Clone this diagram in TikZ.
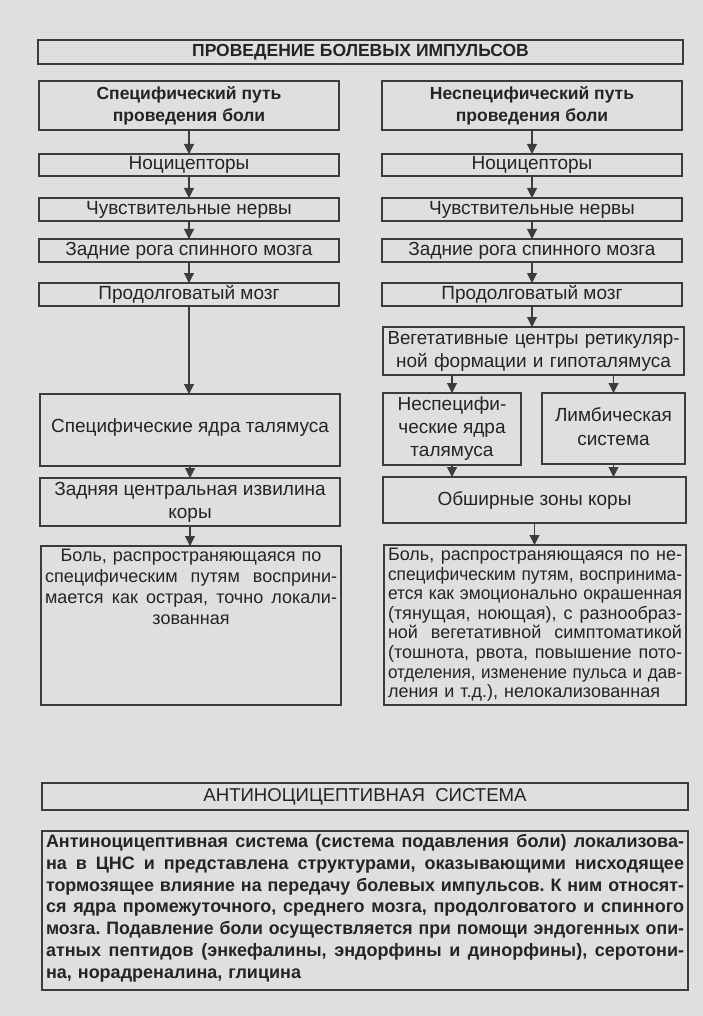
\documentclass[tikz,border=0pt]{standalone}
\usepackage{fontspec}
\setmainfont{Liberation Sans}
\usetikzlibrary{arrows.meta}
\definecolor{bg}{RGB}{223,223,223}
\definecolor{ln}{RGB}{60,60,60}
\definecolor{tx}{RGB}{36,36,36}
\frenchspacing
\newsavebox\jbox
\newcommand\jl[1]{\leavevmode\sbox\jbox{#1}\ifdim\wd\jbox>\linewidth\resizebox{\linewidth}{\height}{\usebox\jbox}\else\hbox to\linewidth{\spaceskip=\fontdimen2\font plus 1fil\relax#1}\fi}
\newcommand\cl[1]{\makebox[\linewidth][c]{#1}}
\begin{document}
\begin{tikzpicture}[x=1pt,y=-1pt,
  R/.style n args={4}{at={({(#1+#3)/2},{(#2+#4)/2})}, minimum width={(#3-#1)*1pt}, minimum height={(#4-#2)*1pt}},
  box/.style={draw=ln, line width=1.1pt, inner sep=0pt, outer sep=0pt, text=tx, align=center,
    font=\fontsize{19}{23}\selectfont},
  hd/.style={font=\bfseries\fontsize{17.5}{22}\selectfont},
  arr/.style={draw=ln, line width=1.1pt, -{Triangle[width=10pt,length=10pt]}},
  txt/.style={inner sep=0pt, text=tx, align=left, anchor=north, text width=#1}]
\fill[bg] (0,0) rectangle (703,1016);
\useasboundingbox (0,0) rectangle (703,1016);

% title
\node[box, R={38}{40}{683}{64}, font=\bfseries\fontsize{17.5}{20}\selectfont] (title) {ПРОВЕДЕНИЕ БОЛЕВЫХ ИМПУЛЬСОВ};

% left column
\node[box, hd, R={39}{81}{339}{130}] (l1) {Специфический путь\\проведения боли};
\node[box, R={39}{154}{339}{176}] (l2) {Ноцицепторы};
\node[box, R={39}{198}{339}{221}] (l3) {Чувствительные нервы};
\node[box, R={39}{239}{339}{262}] (l4) {Задние рога спинного мозга};
\node[box, R={39}{283}{339}{306}] (l5) {Продолговатый мозг};
\node[box, R={40}{394}{340}{466}] (l6) {\raisebox{8pt}{Специфические ядра талямуса}};
\node[box, R={40}{478}{340}{526}] (l7) {Задняя центральная извилина\\коры};
\node[box, R={41}{546}{341}{705}] (l8) {};
\node[txt=292pt, font=\fontsize{18}{21}\selectfont] (l8t) at ([yshift=-3pt]l8.north)
  {\cl{Боль, распространяющаяся по}\\
   \jl{специфическим путям восприни-}\\
   \jl{мается как острая, точно локали-}\\
   \cl{зованная}};

% right column
\node[box, hd, R={382}{81}{682}{130}] (r1) {Неспецифический путь\\проведения боли};
\node[box, R={382}{154}{682}{176}] (r2) {Ноцицепторы};
\node[box, R={382}{198}{682}{221}] (r3) {Чувствительные нервы};
\node[box, R={382}{239}{682}{262}] (r4) {Задние рога спинного мозга};
\node[box, R={382}{283}{682}{306}] (r5) {Продолговатый мозг};
\node[box, R={383}{327}{684}{375}] (r6) {};
\node[txt=292pt, font=\fontsize{19}{23}\selectfont, anchor=center] (r6t) at (r6.center)
  {\jl{Вегетативные центры ретикуляр-}\\
   \cl{ной формации и гипоталямуса}};
\node[box, R={383}{393}{521}{465}] (r7a) {Неспецифи-\\ческие ядра\\талямуса};
\node[box, R={542}{393}{685}{464}] (r7b) {\raisebox{4pt}{\begin{tabular}{@{}c@{}}Лимбическая\\[1pt]система\end{tabular}}};
\node[box, R={383}{477}{686}{523}] (r8) {Обширные зоны коры};
\node[box, R={384}{545}{686}{705}] (r9) {};
\node[txt=294pt, font=\fontsize{18}{19.6}\selectfont] (r9t) at ([yshift=-3pt]r9.north)
  {\jl{Боль, распространяющаяся по не-}\\
   \jl{специфическим путям, воспринима-}\\
   \jl{ется как эмоционально окрашенная}\\
   \jl{(тянущая, ноющая), с разнообраз-}\\
   \jl{ной вегетативной симптоматикой}\\
   \jl{(тошнота, рвота, повышение пото-}\\
   \jl{отделения, изменение пульса и дав-}\\
   ления и т.д.), нелокализованная};

% arrows left
\foreach \a/\b in {l1/l2,l2/l3,l3/l4,l4/l5,l5/l6,l6/l7,l7/l8}
  \draw[arr] (\a.south) -- (\a.south |- \b.north);
% arrows right
\foreach \a/\b in {r1/r2,r2/r3,r3/r4,r4/r5,r5/r6,r8/r9}
  \draw[arr] (\a.south) -- (\a.south |- \b.north);
\draw[arr] (r7a.north |- r6.south) -- (r7a.north);
\draw[arr] (r7b.north |- r6.south) -- (r7b.north);
\draw[arr] (r7a.south) -- (r7a.south |- r8.north);
\draw[arr] (r7b.south) -- (r7b.south |- r8.north);

% antinociceptive system
\node[box, R={42}{783}{688}{810}, font=\fontsize{18.6}{20}\selectfont] (at) {АНТИНОЦИЦЕПТИВНАЯ\ \ СИСТЕМА};
\node[box, R={42}{831}{688}{990}] (ab) {};
\node[txt=638pt, font=\bfseries\fontsize{18}{21.8}\selectfont] (abt) at ([yshift=-3pt]ab.north)
  {\jl{Антиноцицептивная система (система подавления боли) локализова-}\\
   \jl{на в ЦНС и представлена структурами, оказывающими нисходящее}\\
   \jl{тормозящее влияние на передачу болевых импульсов. К ним относят-}\\
   \jl{ся ядра промежуточного, среднего мозга, продолговатого и спинного}\\
   \jl{мозга. Подавление боли осуществляется при помощи эндогенных опи-}\\
   \jl{атных пептидов (энкефалины, эндорфины и динорфины), серотони-}\\
   на, норадреналина, глицина};
\end{tikzpicture}
\end{document}
